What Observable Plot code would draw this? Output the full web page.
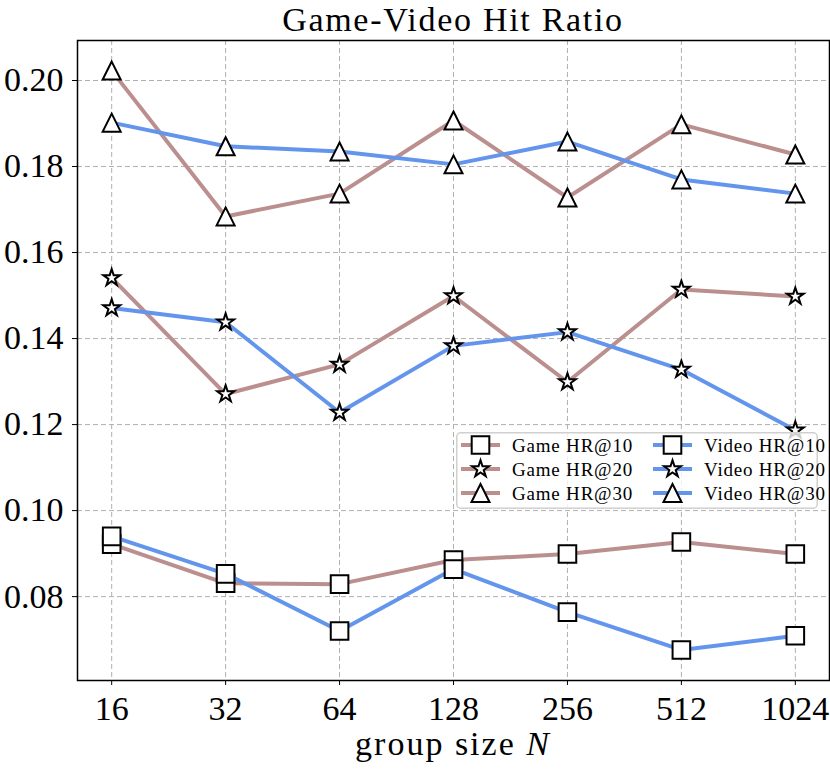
<!DOCTYPE html>
<html><head><meta charset="utf-8">
<script src="https://cdn.jsdelivr.net/npm/d3@7"></script>
<script src="https://cdn.jsdelivr.net/npm/@observablehq/plot@0.6"></script>
<style>
body{margin:0;background:#fff;}
#wrap{position:relative;width:830px;height:771px;font-family:"Liberation Serif",serif;color:#000;}
#chart{position:absolute;left:0;top:0;}
#title{position:absolute;left:77px;width:752px;top:0;text-align:center;font-size:34px;line-height:40px;letter-spacing:1.7px;}
#xlabel{position:absolute;left:77px;width:752px;top:724px;text-align:center;font-size:34px;line-height:40px;letter-spacing:2px;}
#legend{position:absolute;left:456px;top:432px;}
</style></head>
<body><div id="wrap"><div id="chart"></div><div id="title">Game-Video Hit Ratio</div><div id="xlabel">group size <i>N</i></div><div id="legend"></div></div>
<script>
const groupSizes = [16, 32, 64, 128, 256, 512, 1024];
const gameHR10  = [0.0922, 0.0831, 0.0829, 0.0885, 0.0899, 0.0927, 0.0899];
const gameHR20  = [0.1541, 0.1271, 0.1340, 0.1499, 0.1299, 0.1514, 0.1498];
const gameHR30  = [0.2023, 0.1684, 0.1737, 0.1907, 0.1728, 0.1898, 0.1828];
const videoHR10 = [0.0940, 0.0853, 0.0720, 0.0864, 0.0764, 0.0676, 0.0709];
const videoHR20 = [0.1471, 0.1438, 0.1228, 0.1383, 0.1415, 0.1328, 0.1187];
const videoHR30 = [0.1902, 0.1847, 0.1835, 0.1805, 0.1858, 0.1770, 0.1737];
const yTicks = [0.08, 0.10, 0.12, 0.14, 0.16, 0.18, 0.20];

const brown = "#bc8f8f", blue = "#6495ed";
const mplSquare = {draw(ctx, size){const r = Math.sqrt(size/Math.PI); ctx.moveTo(-r,-r); ctx.lineTo(r,-r); ctx.lineTo(r,r); ctx.lineTo(-r,r); ctx.closePath();}};
const mplTriangle = {draw(ctx, size){const r = Math.sqrt(size/Math.PI); ctx.moveTo(0,-r); ctx.lineTo(r,r); ctx.lineTo(-r,r); ctx.closePath();}};
const star = d3.symbolStar;

const series = [
  {name:"Game HR@10", values:gameHR10, color:brown, symbol:mplSquare, r:8.8},
  {name:"Game HR@20", values:gameHR20, color:brown, symbol:star, r:5.3},
  {name:"Game HR@30", values:gameHR30, color:brown, symbol:mplTriangle, r:9},
  {name:"Video HR@10", values:videoHR10, color:blue, symbol:mplSquare, r:8.8},
  {name:"Video HR@20", values:videoHR20, color:blue, symbol:star, r:5.3},
  {name:"Video HR@30", values:videoHR30, color:blue, symbol:mplTriangle, r:9}
];

const gridStyle = {stroke:"#b0b0b0", strokeOpacity:1, strokeWidth:1, strokeDasharray:"5,3"};
const marks = [Plot.gridX(groupSizes, gridStyle), Plot.gridY(yTicks, gridStyle)];
for (const s of series) {
  const rows = groupSizes.map((n, i) => ({n, v: s.values[i]}));
  marks.push(Plot.line(rows, {x:"n", y:"v", stroke:s.color, strokeWidth:4}));
  marks.push(Plot.dot(rows, {x:"n", y:"v", symbol:s.symbol, r:s.r, fill:"white", stroke:"black", strokeWidth:2, strokeLinejoin:"miter"}));
}
marks.push(Plot.frame({stroke:"black", strokeWidth:1.5}));
marks.push(Plot.axisX(groupSizes, {tickFormat:d => String(d), tickSize:5, tickPadding:10, fontSize:34, label:null}));
marks.push(Plot.axisY(yTicks, {tickFormat:d3.format(".2f"), tickSize:5, tickPadding:9, fontSize:34, label:null}));

const chart = Plot.plot({
  width:830, height:771,
  marginTop:40, marginRight:1, marginBottom:91, marginLeft:77,
  style:{fontFamily:"Liberation Serif, serif", background:"white", color:"black", overflow:"visible"},
  x:{type:"log", base:2, domain:[2**3.7, 2**10.3]},
  y:{domain:[0.0605, 0.2093]},
  marks
});
document.getElementById("chart").appendChild(chart);

// legend
const lw = 362, lh = 77;
const svg = d3.select("#legend").append("svg").attr("width", lw).attr("height", lh).style("overflow","visible");
svg.append("rect").attr("x",0.75).attr("y",0.75).attr("width",lw-1.5).attr("height",lh-1.5).attr("rx",4)
  .attr("fill","white").attr("fill-opacity",0.8).attr("stroke","#d0d0d0").attr("stroke-width",1.5);
const rowsY = [13, 37, 61];
const colX = [5, 197];
series.forEach((s, i) => {
  const col = i < 3 ? 0 : 1, row = i % 3;
  const x0 = colX[col], y = rowsY[row];
  const g = svg.append("g");
  g.append("line").attr("x1", x0).attr("x2", x0+39).attr("y1", y).attr("y2", y).attr("stroke", s.color).attr("stroke-width", 4);
  g.append("path").attr("d", d3.symbol(s.symbol, Math.PI*s.r*s.r)()).attr("transform", `translate(${x0+19.5},${y})`)
    .attr("fill","white").attr("stroke","black").attr("stroke-width",2).attr("stroke-linejoin","miter");
  g.append("text").attr("x", x0+51).attr("y", y).attr("dy","0.35em").attr("font-size",19).attr("letter-spacing","0.8px")
    .attr("font-family","Liberation Serif, serif").text(s.name);
});
</script>
</body></html>
